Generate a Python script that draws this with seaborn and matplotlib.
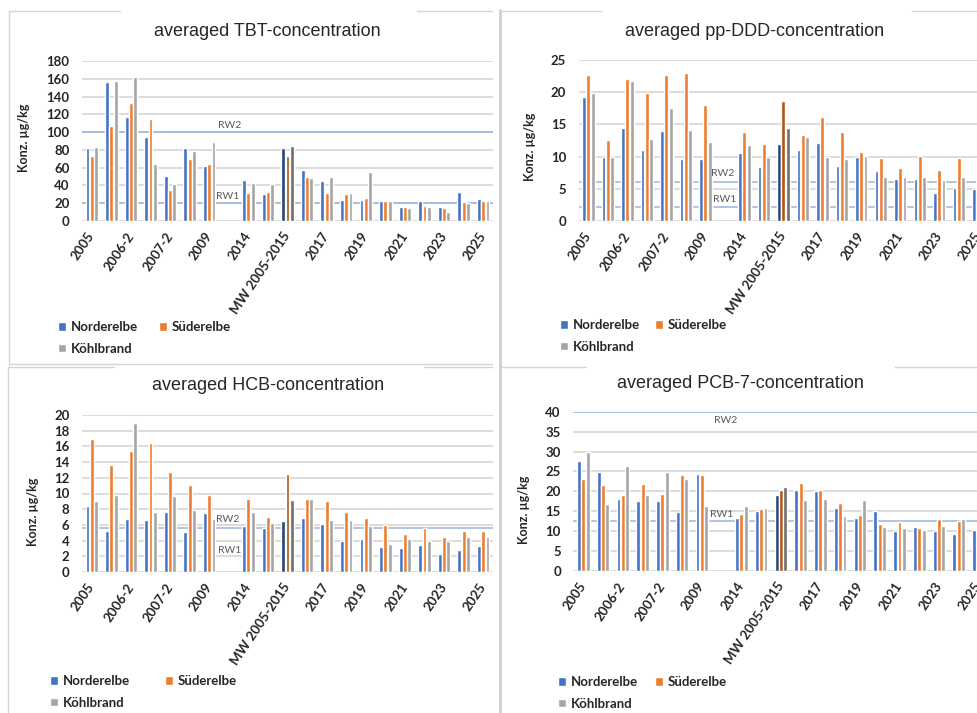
import matplotlib
matplotlib.use("Agg")
import matplotlib.pyplot as plt
import seaborn as sns
import pandas as pd
import numpy as np
from matplotlib.lines import Line2D

# ---------------- data ----------------
categories = ["2005", "2006-1", "2006-2", "2007-1", "2007-2", "2008", "2009", "2010",
              "2014", "2015", "MW 2005-2015", "2016", "2017", "2018", "2019", "2020",
              "2021", "2022", "2023", "2024", "2025"]
sites = ["Norderelbe", "Süderelbe", "Köhlbrand"]

tbt_norderelbe = [82, 156, 117, 95, 51, 82, 62, None, 46, 30, 82, 57, 45, 24, 24, 22, 16, 22, 16, 33, 25]
tbt_suederelbe = [73, 107, 133, 115, 35, 70, 64, None, 32, 33, 73, 49, 32, 30, 26, 22, 16, 17, 15, 21, 22]
tbt_koehlbrand = [83, 157, 162, 64, 42, 79, 89, None, 43, 42, 84, 48, 49, 31, 55, 22, 15, 16, 10, 20, 23]

ddd_norderelbe = [19.2, 9.9, 14.5, 11.1, 13.9, 9.7, 9.7, None, 10.5, 8.4, 11.9, 11.1, 12.1, 8.5, 9.9, 7.7, 6.5, 6.5, 4.4, 5.2, 4.9]
ddd_suederelbe = [22.6, 12.6, 22.1, 19.8, 22.7, 23.0, 18.0, None, 13.8, 12.0, 18.6, 13.4, 16.2, 13.8, 10.7, 9.8, 8.2, 10.1, 7.9, 9.8, 6.6]
ddd_koehlbrand = [19.8, 9.9, 21.7, 12.8, 17.5, 14.2, 12.3, None, 11.8, 10.0, 14.5, 13.0, 10.0, 9.7, 10.1, 6.9, 6.8, 6.9, 6.3, 6.8, 6.5]

hcb_norderelbe = [8.4, 5.2, 6.7, 6.6, 7.6, 5.1, 7.5, None, 5.8, 5.6, 6.5, 6.9, 6.1, 3.9, 4.2, 3.2, 3.0, 3.4, 2.3, 2.8, 3.3]
hcb_suederelbe = [17.0, 13.6, 15.4, 16.4, 12.8, 11.1, 9.8, None, 9.3, 7.0, 12.5, 9.3, 9.0, 7.6, 6.9, 6.0, 4.9, 5.6, 4.4, 5.2, 5.2]
hcb_koehlbrand = [9.0, 9.8, 19.0, 7.6, 9.7, 7.9, 6.7, None, 7.7, 6.3, 9.2, 9.3, 6.6, 6.6, 5.8, 3.6, 4.2, 4.0, 3.9, 4.4, 4.4]

pcb_norderelbe = [27.5, 24.9, 18.0, 17.5, 17.5, 14.8, 24.4, None, 13.4, 15.1, 19.2, 20.3, 20.0, 15.9, 13.2, 15.0, 10.1, 11.1, 10.1, 9.3, 10.4]
pcb_suederelbe = [23.2, 21.5, 19.0, 21.9, 19.4, 24.1, 24.2, None, 14.4, 15.5, 20.4, 22.0, 20.3, 17.0, 14.1, 11.9, 12.4, 10.9, 13.1, 12.5, 10.5]
pcb_koehlbrand = [29.8, 16.9, 26.3, 19.1, 24.9, 23.2, 16.2, None, 16.3, 15.7, 21.0, 17.8, 18.0, 13.9, 17.9, 11.1, 10.8, 10.3, 11.3, 13.0, 11.0]

tbt_rw = [20, 100]
ddd_rw = [2.2, 6]
hcb_rw = [5.6]
pcb_rw = [12.5, 40]

colors = ["#4472C4", "#ED7D31", "#A5A5A5"]
dark_colors = ["#264478", "#B5520F", "#6E6E6E"]

# ---------------- figure ----------------
W, H = 978, 713
sns.set_theme(style="white")
plt.rcParams["font.family"] = ["Lato", "DejaVu Sans"]
fig = plt.figure(figsize=(W / 100, H / 100), dpi=100)
fig.patch.set_facecolor("white")


def frect(l, t, r, b):
    return [l / W, 1 - b / H, (r - l) / W, (b - t) / H]


def fline(x0, y0, x1, y1, lw=1.0, c="#D4D4D4"):
    fig.add_artist(Line2D([x0 / W, x1 / W], [1 - y0 / H, 1 - y1 / H],
                          transform=fig.transFigure, color=c, lw=lw))


# panel frames (screenshot borders)
fline(9, 11, 9, 365); fline(9, 11, 120, 11); fline(417, 11, 492, 11)
fline(500, 10, 500, 365, lw=2, c="#CFCFCF"); fline(500, 11, 601, 11); fline(912, 11, 978, 11)
fline(9, 364, 492, 364)
fline(8, 367, 8, 713); fline(8, 367, 114, 367); fline(424, 367, 492, 367)
fline(500, 365, 500, 713, lw=2, c="#CFCFCF"); fline(500, 367, 586, 367); fline(895, 367, 978, 367)

panels = [
    dict(title="averaged TBT-concentration", vals=(tbt_norderelbe, tbt_suederelbe, tbt_koehlbrand),
         box=(82, 61, 493, 221), ymax=180, step=20, rw=tbt_rw,
         rwlab=[("RW2", 7.05, 108), ("RW1", 6.95, 28)],
         title_xy=(267, 32), ylab_xy=(30, 138), leg_xy=(58, 321), leg_cs=1.6),
    dict(title="averaged pp-DDD-concentration", vals=(ddd_norderelbe, ddd_suederelbe, ddd_koehlbrand),
         box=(578.6, 60, 988, 221), ymax=25, step=5, rw=ddd_rw,
         rwlab=[("RW2", 6.9, 7.45), ("RW1", 7.0, 3.4)],
         title_xy=(755, 32), ylab_xy=(536, 147), leg_xy=(560, 319), leg_cs=1.15),
    dict(title="averaged HCB-concentration", vals=(hcb_norderelbe, hcb_suederelbe, hcb_koehlbrand),
         box=(82, 415, 493, 572), ymax=20, step=2, rw=hcb_rw,
         rwlab=[("RW2", 6.96, 6.75), ("RW1", 7.05, 2.8)],
         title_xy=(268, 386), ylab_xy=(39, 512), leg_xy=(50, 675), leg_cs=2.7),
    dict(title="averaged PCB-7-concentration", vals=(pcb_norderelbe, pcb_suederelbe, pcb_koehlbrand),
         box=(573.4, 411.7, 988.4, 571), ymax=40, step=5, rw=pcb_rw,
         rwlab=[("RW2", 7.18, 37.9), ("RW1", 7.02, 14.3)],
         title_xy=(740, 383), ylab_xy=(530, 510), leg_xy=(558, 676), leg_cs=1.3),
]

for p in panels:
    l, t, r, b = p["box"]
    ax = fig.add_axes(frect(l, t, r, b))
    rows = []
    for site, series in zip(sites, p["vals"]):
        for cat, v in zip(categories, series):
            if v is not None:
                rows.append({"Kategorie": cat, "Wert": v, "Gebiet": site})
    df = pd.DataFrame(rows)
    sns.barplot(data=df, x="Kategorie", y="Wert", hue="Gebiet", order=categories,
                hue_order=sites, palette=colors, saturation=1, width=0.66, gap=0.1,
                errorbar=None, ax=ax)
    # darker colours for the mean group
    mw = categories.index("MW 2005-2015")
    for patch in ax.patches:
        c = patch.get_x() + patch.get_width() / 2
        if abs(c - mw) < 0.45:
            k = int(round((c - mw) / 0.22)) + 1
            patch.set_facecolor(dark_colors[k])
    ax.set_xlim(-0.5, len(categories) - 0.5)
    ax.set_ylim(0, p["ymax"])
    ax.set_yticks(np.arange(0, p["ymax"] + 0.001, p["step"]))
    ax.yaxis.grid(True, color="#D9D9D9", lw=1.3)
    ax.xaxis.grid(False)
    ax.set_axisbelow(True)
    for s in ax.spines.values():
        s.set_visible(False)
    for rv in p["rw"]:
        ax.axhline(rv, color="#9DB4E0", lw=1.1, zorder=0.6)
    for txt, xc, yv in p["rwlab"]:
        ax.text(xc, yv, txt, ha="center", va="center", fontsize=7.5, color="#595959")
    ax.set_xticks(range(0, len(categories), 2))
    ax.set_xticklabels(categories[::2], rotation=56, ha="right", va="center",
                       rotation_mode="anchor", fontsize=9.5, fontweight="bold", color="#262626")
    for lab in ax.get_yticklabels():
        lab.set_fontsize(9.5)
        lab.set_fontweight("bold")
        lab.set_color("#262626")
    ax.tick_params(axis="both", length=0)
    ax.tick_params(axis="y", pad=9)
    ax.tick_params(axis="x", pad=9)
    ax.set_xlabel("")
    ax.set_ylabel("Konz. µg/kg", fontsize=9, fontweight="bold", color="#262626")
    ax.yaxis.set_label_coords((p["ylab_xy"][0] - l) / (r - l), (b - p["ylab_xy"][1]) / (b - t))
    ax.text((p["title_xy"][0] - l) / (r - l), (b - p["title_xy"][1]) / (b - t), p["title"],
            transform=ax.transAxes, ha="center", va="center", fontsize=13,
            family=["Liberation Sans", "DejaVu Sans"], color="#262626")
    old = ax.get_legend()
    handles = list(old.legend_handles)
    labels = [tx.get_text() for tx in old.get_texts()]
    order = [0, 2, 1]
    ax.legend([handles[i] for i in order], [labels[i] for i in order], ncol=2,
              loc="upper left", bbox_to_anchor=(p["leg_xy"][0] / W, 1 - p["leg_xy"][1] / H),
              bbox_transform=fig.transFigure, frameon=False, borderpad=0, borderaxespad=0,
              handlelength=0.6, handleheight=0.6, handletextpad=0.35,
              columnspacing=p["leg_cs"], labelspacing=0.75,
              prop={"family": ["Lato", "DejaVu Sans"], "weight": "bold", "size": 9.5},
              labelcolor="#262626")

fig.savefig("out.png", dpi=100, facecolor="white")
